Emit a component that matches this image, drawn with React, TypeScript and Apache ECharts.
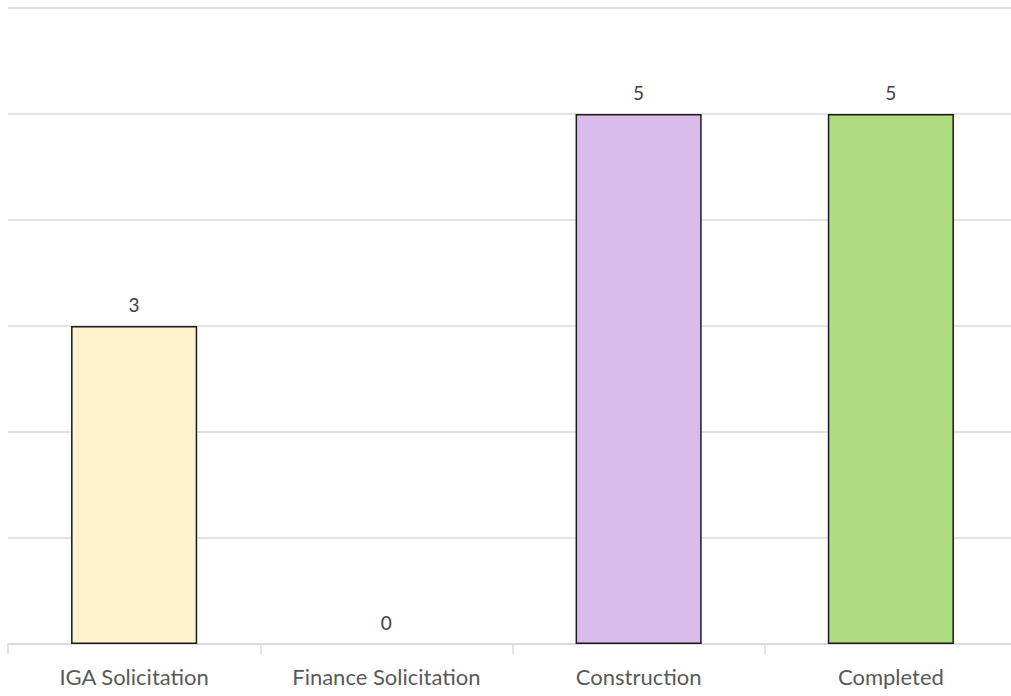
import React, { useEffect, useRef } from "react";
import * as echarts from "echarts";

const categories = ["IGA Solicitation", "Finance Solicitation", "Construction", "Completed"];
const values = [3, 0, 5, 5];
const barColors = ["#FFF2CC", "#E2F0D9", "#D8BBEA", "#AFDC7E"];

export default function App() {
  const ref = useRef<HTMLDivElement>(null);
  useEffect(() => {
    const chart = echarts.init(ref.current!, null, { renderer: "svg" });
    chart.setOption({
      animation: false,
      grid: { left: 8, right: 1, top: 8, bottom: 52, containLabel: false },
      xAxis: {
        type: "category",
        data: categories,
        axisLine: { lineStyle: { color: "#d9d9d9", width: 1.5 } },
        axisTick: { show: true, length: 10, lineStyle: { color: "#d9d9d9", width: 1.5 } },
        axisLabel: { color: "#595959", fontSize: 22, fontFamily: "Lato", margin: 21 },
      },
      yAxis: {
        type: "value",
        min: 0,
        max: 6,
        interval: 1,
        axisLabel: { show: false },
        axisLine: { show: false },
        axisTick: { show: false },
        splitLine: { lineStyle: { color: "#d9d9d9", width: 1.5 } },
      },
      series: [
        {
          type: "bar",
          data: values.map((v, i) => ({
            value: v,
            itemStyle: { color: barColors[i], borderWidth: v === 0 ? 0 : 1.5 },
          })),
          barWidth: "50%",
          itemStyle: { borderColor: "#1a1a1a", borderWidth: 1.5 },
          label: {
            show: true,
            position: "top",
            distance: 12,
            color: "#404040",
            fontSize: 19,
            fontFamily: "Lato",
          },
        },
      ],
    });
    return () => chart.dispose();
  }, []);
  return (
    <div style={{ position: "absolute", left: 0, top: 0, width: 1011, height: 696, overflow: "hidden" }}>
      <div ref={ref} style={{ width: 1018, height: 696 }} />
    </div>
  );
}
